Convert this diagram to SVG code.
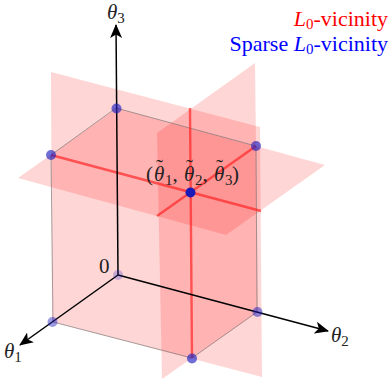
<svg xmlns="http://www.w3.org/2000/svg" width="391" height="379" viewBox="0 0 391 379">
<style>
.plane{fill:#ff0000;fill-opacity:.16;stroke:none}
.edge{stroke:#777;stroke-opacity:.65;stroke-width:1;fill:none}
.red{stroke:#ff2222;stroke-opacity:.68;stroke-width:2.4;fill:none}
.axis{stroke:#000;stroke-width:1.5;fill:none;marker-end:url(#arrow)}
.pt{fill:#2020c0;fill-opacity:.65}
.t{font-family:"Liberation Serif","Times New Roman",serif;font-size:21px;fill:#222}
.i{font-style:italic}
.s{font-size:15px}
.v{font-size:22px}
</style>
<defs>
<marker id="arrow" markerUnits="userSpaceOnUse" markerWidth="16" markerHeight="14" refX="13" refY="7" orient="auto">
<path d="M0,1 L14,7 L0,13 L3.500,7 Z" fill="#000"/>
</marker>
</defs>
<g id="planes">
<polygon class="plane" points="51,72 260,127 262,377 52,322"/>
<polygon class="plane" points="18,178 117,108 325,165 226,235"/>
<polygon class="plane" points="255,63 157,133 162,379 258,312"/>
</g>
<g id="connectors">
<path class="edge" d="M116,108 L51,155 L53,322 L192,358 L257,312 L256,146 Z"/>
<path class="red" d="M51,155 L261,211"/>
<path class="red" d="M256,146 L157,216"/>
<path class="red" d="M190,108 L192,358"/>
<path class="axis" d="M118,275 L116,25"/>
<path class="axis" d="M118,275 L20,345"/>
<path class="axis" d="M118,275 L328,331"/>
</g>
<g id="node-top-back"><circle class="pt" cx="116.500" cy="108.500" r="5"/></g>
<g id="node-top-left"><circle class="pt" cx="51" cy="155" r="5"/></g>
<g id="node-top-right"><circle class="pt" cx="256" cy="146" r="5"/></g>
<g id="node-origin"><circle cx="118" cy="275" r="5" fill="#2020c0" fill-opacity=".25"/></g>
<g id="node-bottom-left"><circle cx="52.500" cy="322" r="5" fill="#2020c0" fill-opacity=".45"/></g>
<g id="node-bottom-front"><circle class="pt" cx="192" cy="358.500" r="5"/></g>
<g id="node-bottom-right"><circle cx="257.500" cy="312" r="5" fill="#2020c0" fill-opacity=".5"/></g>
<g id="node-center"><circle cx="190.500" cy="192.500" r="5" fill="#1a1ab8"/></g>
<g id="labels">
<text class="t i" x="107" y="19">θ<tspan class="s" dy="4" font-style="normal">3</tspan></text>
<text class="t i" x="4" y="358">θ<tspan class="s" dy="4" font-style="normal">1</tspan></text>
<text class="t i" x="331" y="342">θ<tspan class="s" dy="4" font-style="normal">2</tspan></text>
<text class="t" x="99" y="273">0</text>
<text class="t" x="146" y="181">(<tspan class="i" x="154">θ</tspan><tspan x="156" y="174">˜</tspan><tspan class="s" x="165" y="185">1</tspan><tspan y="181">,</tspan><tspan class="i" x="184">θ</tspan><tspan x="186" y="174">˜</tspan><tspan class="s" x="195" y="185">2</tspan><tspan y="181">,</tspan><tspan class="i" x="214">θ</tspan><tspan x="216" y="174">˜</tspan><tspan class="s" x="225" y="185">3</tspan><tspan x="232" y="181">)</tspan></text>
<text class="t v" x="388" y="26" text-anchor="end" style="fill:#ff0000"><tspan class="i">L</tspan><tspan class="s" dy="3">0</tspan><tspan dy="-3">-vicinity</tspan></text>
<text class="t v" x="388" y="51" text-anchor="end" style="fill:#0000ff">Sparse <tspan class="i">L</tspan><tspan class="s" dy="3">0</tspan><tspan dy="-3">-vicinity</tspan></text>
</g>
</svg>
